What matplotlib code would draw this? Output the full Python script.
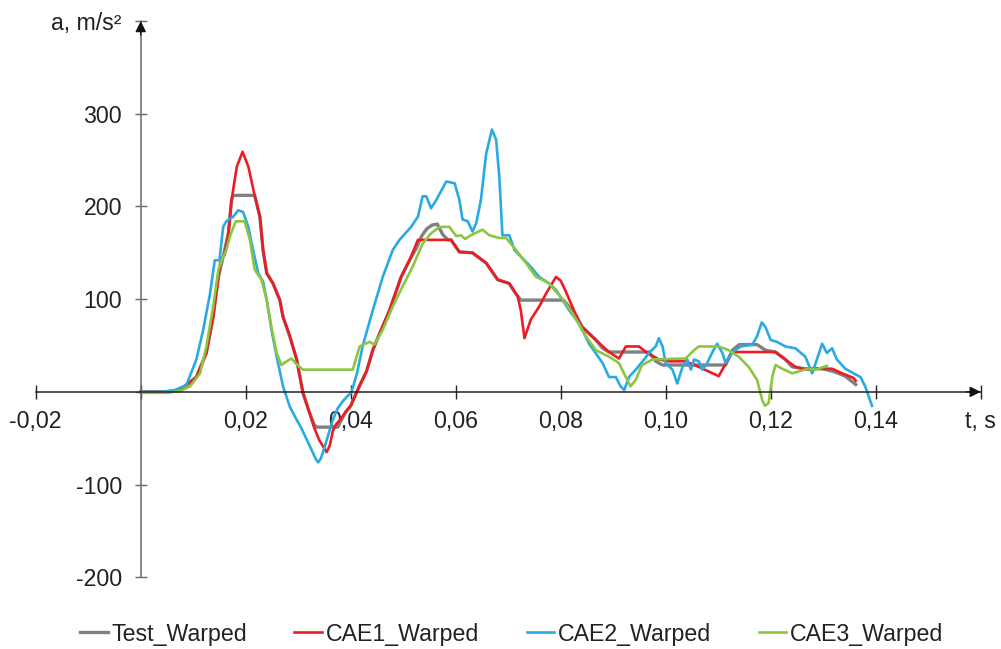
import numpy as np
import matplotlib
matplotlib.use('Agg')
import matplotlib.pyplot as plt

plt.rcParams['font.family'] = ['Liberation Sans', 'DejaVu Sans']

# series (time in s, acceleration in m/s^2)
test_t = [0, .005, .0075, .0106, .0125, .0138, .0148, .0157, .0167, .0173, .0176, .0217, .0227,
          .0233, .0240, .0252, .0265, .0271, .0284, .0297, .0309, .0320, .0330, .0335, .0375,
          .0390, .0400, .0410, .0418, .0430, .0442, .0455, .0474, .0496, .0512, .0525, .0535,
          .0545, .0555, .0565, .0575, .0585, .0591, .0607, .0632, .0658, .0680, .0702, .0712,
          .0724, .0805, .0816, .0841, .0867, .0880, .0892, .0968, .0981, .0994, .1114, .1127,
          .1140, .1174, .1190, .1209, .1228, .1241, .1266, .1298, .1320, .1342, .1362]
test_a = [0, 0, 2, 16, 42, 81, 124, 146, 171, 207, 212, 212, 189,
          153, 128, 117, 99, 81, 60, 35, -1, -20, -35, -38, -38,
          -22, -15, -2, 8, 22, 45, 63, 88, 124, 142, 155, 168,
          176, 180, 181, 170, 164, 164, 151, 150, 139, 121, 117, 108,
          99, 99, 92, 70, 56, 47, 43, 43, 33, 29, 29, 45,
          51, 51, 45, 43, 35, 27, 25, 25, 22, 17, 8]

cae1_t = [0, .005, .0075, .0106, .0125, .0138, .0148, .0152, .0160, .0167, .0173, .0183, .0194,
          .0205, .0217, .0227, .0233, .0240, .0252, .0265, .0271, .0284, .0297, .0309, .0320,
          .0330, .0340, .0354, .0360, .0366, .0372, .0380, .0390, .0400, .0410, .0418, .0430,
          .0442, .0455, .0474, .0496, .0512, .0528, .0591, .0607, .0632, .0658, .0680, .0702,
          .0718, .0724, .0731, .0743, .0759, .0772, .0791, .0800, .0810, .0825, .0841, .0867,
          .0892, .0911, .0924, .0949, .0965, .0987, .1006, .1038, .1063, .1082, .1101, .1111,
          .1127, .1209, .1228, .1247, .1266, .1291, .1317, .1336, .1358, .1362]
cae1_a = [0, 0, 2, 16, 42, 81, 124, 142, 148, 171, 207, 243, 259,
          243, 212, 189, 153, 128, 117, 99, 81, 60, 35, -1, -20,
          -38, -52, -65, -58, -42, -35, -30, -22, -15, -2, 8, 22,
          45, 63, 88, 124, 142, 164, 164, 151, 150, 139, 121, 117,
          103, 88, 58, 78, 92, 106, 124, 120, 108, 88, 70, 56,
          43, 36, 49, 49, 42, 35, 33, 33, 27, 22, 17, 27,
          43, 43, 35, 27, 24, 25, 25, 20, 15, 12]

cae2_t = [0, .004, .0065, .0087, .0106, .0119, .0132, .0141, .0150, .0157, .0163, .0176, .0186,
          .0195, .0205, .0214, .0224, .0233, .0240, .0249, .0259, .0271, .0284, .0295, .0305,
          .0315, .0325, .0333, .0338, .0343, .0350, .0358, .0366, .0375, .0385, .0393, .0401,
          .0412, .0423, .0442, .0461, .0480, .0493, .0515, .0528, .0537, .0544, .0553, .0563,
          .0582, .0598, .0607, .0613, .0623, .0632, .0639, .0648, .0658, .0669, .0677, .0683,
          .0689, .0702, .0712, .0724, .0743, .0759, .0778, .0791, .0816, .0835, .0854, .0880,
          .0892, .0905, .0914, .0921, .0930, .0943, .0959, .0968, .0981, .0987, .0994, .1000,
          .1013, .1022, .1032, .1041, .1048, .1054, .1063, .1070, .1079, .1089, .1098, .1108,
          .1114, .1127, .1143, .1165, .1174, .1183, .1190, .1200, .1212, .1228, .1247, .1266,
          .1279, .1288, .1298, .1307, .1317, .1326, .1342, .1358, .1371, .1380, .1393]
cae2_a = [0, 0, 2, 7.5, 35, 67, 106, 142, 142, 178, 184, 189, 196,
          194, 178, 153, 128, 119, 99, 67, 38, 6, -16, -28, -38,
          -50, -62, -72, -76, -72, -60, -45, -30, -18, -10, -5, -1,
          20, 50, 88, 124, 153, 164, 178, 189, 211, 211, 198, 207,
          227, 225, 207, 186, 184, 173, 182, 207, 257, 283, 272, 232,
          169, 169, 153, 146, 135, 124, 117, 110, 88, 74, 52, 31,
          16, 16, 6, 2, 16, 24, 35, 42, 49, 58, 49, 31,
          24, 9, 27, 35, 24, 35, 33, 24, 31, 43, 52, 42,
          31, 43, 49, 51, 60, 75, 70, 56, 54, 49, 47, 38,
          20, 35, 52, 42, 47, 35, 25, 20, 16, 6, -15]

cae3_t = [0, .005, .0075, .0094, .0113, .0125, .0138, .0148, .0154, .0163, .0170, .0181, .0198,
          .0208, .0217, .0230, .0240, .0249, .0259, .0268, .0278, .0287, .0300, .0309, .0404,
          .0417, .0436, .0445, .0461, .0480, .0499, .0518, .0537, .0553, .0569, .0588, .0601,
          .0610, .0618, .0629, .0651, .0664, .0683, .0696, .0715, .0734, .0753, .0765, .0778,
          .0791, .0797, .0822, .0848, .0867, .0892, .0911, .0924, .0933, .0943, .0955, .0975,
          .1038, .1054, .1063, .1101, .1120, .1139, .1158, .1174, .1184, .1189, .1196, .1203,
          .1209, .1222, .1241, .1253, .1272, .1285, .1307]
cae3_a = [-1, -1, 1, 6, 20, 49, 92, 132, 142, 153, 168, 184, 184,
          164, 132, 121, 99, 70, 42, 29, 33, 36, 28, 24, 24,
          49, 54, 51, 67, 92, 114, 135, 160, 171, 178, 178, 168,
          169, 165, 169, 175, 169, 166, 166, 153, 139, 124, 121, 117,
          108, 105, 85, 60, 45, 38, 31, 16, 6, 13, 29, 35,
          36, 45, 49, 49, 45, 38, 27, 13, -9, -15, -12, 16,
          29, 25, 20, 22, 25, 24, 28]

names = ['Test_Warped', 'CAE1_Warped', 'CAE2_Warped', 'CAE3_Warped']
colors = ['#808080', '#ed1c24', '#29abe2', '#8cc63f']

x_ticks = [-0.02, 0, 0.02, 0.04, 0.06, 0.08, 0.10, 0.12, 0.14, 0.16]
x_labels = ['-0,02', '', '0,02', '0,04', '0,06', '0,08', '0,10', '0,12', '0,14', 't, s']
y_ticks = [-200, -100, 0, 100, 200, 300, 400]
y_labels = ['-200', '-100', '', '100', '200', '300', 'a, m/s²']

fs = 16.7

fig = plt.figure(figsize=(10.01, 6.49), dpi=100)
ax = fig.add_axes([0.0357, 0.1105, 0.944, 0.857])

series = [(test_t, test_a), (cae1_t, cae1_a), (cae2_t, cae2_a), (cae3_t, cae3_a)]
widths = [2.4, 1.9, 1.9, 1.9]
for (t, a), name, c, w in zip(series, names, colors, widths):
    ax.plot(t, a, color=c, lw=w, label=name, solid_joinstyle='round')

ax.set_xlim(-0.02, 0.16)
ax.set_ylim(-200, 400)

for s in ['top', 'right']:
    ax.spines[s].set_visible(False)
ax.spines['left'].set_position(('data', 0))
ax.spines['bottom'].set_position(('data', 0))
ax.spines['left'].set_color('#6a6a6a')
ax.spines['bottom'].set_color('#222222')
ax.spines['left'].set_linewidth(1.1)
ax.spines['bottom'].set_linewidth(1.1)

ax.set_xticks(x_ticks)
ax.set_xticklabels(x_labels)
ax.set_yticks(y_ticks)
ax.set_yticklabels(y_labels)
ax.tick_params(axis='x', direction='inout', length=10, width=1, color='#222222',
               labelsize=fs, pad=8, labelcolor='#222222')
ax.tick_params(axis='y', direction='inout', length=9, width=1, color='#6a6a6a',
               labelsize=fs, pad=9, labelcolor='#222222')

# arrow heads ending at the axis ends
ax.annotate('', xy=(1, 0), xytext=(0.985, 0), xycoords=ax.get_yaxis_transform(),
            textcoords=ax.get_yaxis_transform(),
            arrowprops=dict(arrowstyle='-|>', color='#111111', lw=1, mutation_scale=16,
                            shrinkA=0, shrinkB=0), annotation_clip=False)
ax.annotate('', xy=(0, 1), xytext=(0, 0.975), xycoords=ax.get_xaxis_transform(),
            textcoords=ax.get_xaxis_transform(),
            arrowprops=dict(arrowstyle='-|>', color='#111111', lw=1, mutation_scale=16,
                            shrinkA=0, shrinkB=0), annotation_clip=False)

fig.legend(loc='center', bbox_to_anchor=(0.511, 0.023), ncol=4, frameon=False,
           fontsize=fs, handlelength=1.2, handletextpad=0.15, columnspacing=2.05)
for txt in fig.legends[0].get_texts():
    txt.set_color('#222222')

fig.savefig('out.png', dpi=100)
